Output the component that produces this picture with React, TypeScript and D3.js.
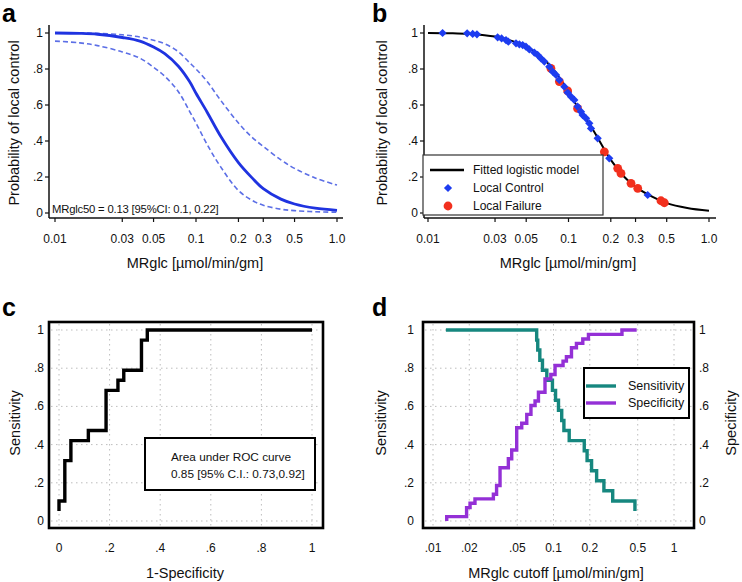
import React from 'react';
import * as d3 from 'd3';

// ---- panel a: fitted logistic curve with 95% CI
const gridX = [0.01, 0.015, 0.02, 0.03, 0.04, 0.05, 0.06, 0.075, 0.09, 0.1, 0.12, 0.15, 0.2, 0.25, 0.3, 0.4, 0.5, 0.7, 1.0];
const aFit = [1.0, 0.998, 0.993, 0.975, 0.955, 0.922, 0.885, 0.815, 0.73, 0.665, 0.56, 0.425, 0.28, 0.195, 0.135, 0.077, 0.05, 0.027, 0.015];
const aUpper = [1.0, 1.0, 0.998, 0.99, 0.978, 0.96, 0.94, 0.896, 0.835, 0.8, 0.73, 0.625, 0.5, 0.42, 0.37, 0.295, 0.248, 0.195, 0.155];
const aLower = [0.955, 0.945, 0.93, 0.895, 0.86, 0.81, 0.76, 0.674, 0.565, 0.5, 0.38, 0.255, 0.125, 0.07, 0.043, 0.021, 0.013, 0.007, 0.004];

// ---- panel b: fitted model + observations
const bFit = [1.0, 0.998, 0.995, 0.98, 0.955, 0.925, 0.885, 0.815, 0.73, 0.665, 0.575, 0.46, 0.295, 0.2, 0.145, 0.088, 0.055, 0.028, 0.012];
const controlX = [0.0127, 0.019, 0.0208, 0.0223, 0.0313, 0.0334, 0.0359, 0.0373, 0.0423, 0.0447, 0.0472, 0.0498, 0.0526, 0.0571, 0.0603, 0.0637, 0.0673, 0.073, 0.0771, 0.0815, 0.0861, 0.0934, 0.0986, 0.1042, 0.11, 0.116, 0.1227, 0.126, 0.1333, 0.1406, 0.1446, 0.1613, 0.195, 0.366];
const controlP = [1.0, 0.998, 0.995, 0.993, 0.976, 0.97, 0.961, 0.952, 0.943, 0.937, 0.933, 0.924, 0.909, 0.891, 0.878, 0.859, 0.841, 0.813, 0.785, 0.767, 0.739, 0.702, 0.669, 0.646, 0.628, 0.591, 0.563, 0.544, 0.526, 0.498, 0.47, 0.415, 0.304, 0.1];
const failureX = [0.075, 0.0861, 0.0986, 0.116, 0.18, 0.224, 0.2364, 0.2786, 0.311, 0.455, 0.481];
const failureP = [0.803, 0.73, 0.678, 0.581, 0.34, 0.248, 0.22, 0.165, 0.137, 0.068, 0.057];

// ---- panel c: ROC curve (step vertices)
const rocFpr = [0, 0, 0.023, 0.047, 0.116, 0.186, 0.233, 0.256, 0.326, 0.349, 1];
const rocTpr = [0.053, 0.105, 0.316, 0.421, 0.474, 0.684, 0.737, 0.789, 0.947, 1, 1];

// ---- panel d: sensitivity / specificity vs cutoff
const sensCut = [0.0128, 0.0725, 0.074, 0.077, 0.081, 0.088, 0.098, 0.104, 0.11, 0.117, 0.122, 0.135, 0.18, 0.19, 0.207, 0.228, 0.262, 0.31, 0.474, 0.474];
const sensVal = [1.0, 0.947, 0.895, 0.842, 0.789, 0.737, 0.684, 0.632, 0.579, 0.526, 0.474, 0.421, 0.368, 0.316, 0.263, 0.211, 0.158, 0.105, 0.105, 0.053];
const specCut = [0.013, 0.013, 0.019, 0.0203, 0.0223, 0.0317, 0.0337, 0.036, 0.0422, 0.045, 0.0495, 0.0545, 0.06, 0.065, 0.0703, 0.075, 0.085, 0.095, 0.103, 0.12, 0.128, 0.141, 0.155, 0.175, 0.195, 0.37, 0.49];
const specVal = [0.0, 0.023, 0.07, 0.093, 0.116, 0.14, 0.186, 0.279, 0.326, 0.372, 0.488, 0.512, 0.558, 0.605, 0.628, 0.674, 0.744, 0.767, 0.814, 0.837, 0.86, 0.907, 0.93, 0.953, 0.977, 1.0, 1.0];

const probTicks = [0, 0.2, 0.4, 0.6, 0.8, 1];
const probLabels = ['0', '.2', '.4', '.6', '.8', '1'];
const mrTicks = [0.01, 0.03, 0.05, 0.1, 0.2, 0.3, 0.5, 1.0];
const mrLabels = ['0.01', '0.03', '0.05', '0.1', '0.2', '0.3', '0.5', '1.0'];
const rocTicks = [0, 0.2, 0.4, 0.6, 0.8, 1];
const rocLabels = ['0', '.2', '.4', '.6', '.8', '1'];
const cutTicks = [0.01, 0.02, 0.05, 0.1, 0.2, 0.5, 1];
const cutLabels = ['.01', '.02', '.05', '0.1', '0.2', '0.5', '1'];

const FONT = 'Liberation Sans, Arial, sans-serif';
const BLUE = '#1f33e0';
const BLUE_DASH = '#5c6fe6';
const TEAL = '#16877f';
const PURPLE = '#9430d6';

const tickFont = { fontFamily: FONT, fontSize: 12, fill: '#111' } as const;
const titleFont = { fontFamily: FONT, fontSize: 14.5, fill: '#111' } as const;
const letterFont = { fontFamily: FONT, fontSize: 25, fontWeight: 700, fill: '#000' } as const;

export default function App() {
  // scales
  const axA = d3.scaleLog().domain([0.01, 1]).range([55, 337]);
  const ayA = d3.scaleLinear().domain([0, 1]).range([213, 33]);
  const axB = d3.scaleLog().domain([0.01, 1]).range([428, 709]);
  const ayB = d3.scaleLinear().domain([0, 1]).range([213, 33]);
  const axC = d3.scaleLinear().domain([0, 1]).range([59, 312]);
  const ayC = d3.scaleLinear().domain([0, 1]).range([521, 330]);
  const axD = d3.scaleLog().domain([0.01, 1]).range([433, 674]);
  const ayD = d3.scaleLinear().domain([0, 1]).range([521, 330]);

  const curve = (sx: any, sy: any, ys: number[]) =>
    d3.line<number>().x((_, i) => sx(gridX[i])).y(d => sy(d)).curve(d3.curveCatmullRom.alpha(0.5))(ys) || '';

  const rocPath = d3.line<number>().x(d => axC(d)).y((_, i) => ayC(rocTpr[i])).curve(d3.curveStepAfter)(rocFpr) || '';
  const sensPath = d3.line<number>().x(d => axD(d)).y((_, i) => ayD(sensVal[i])).curve(d3.curveStepAfter)(sensCut) || '';
  const specPath = d3.line<number>().x(d => axD(d)).y((_, i) => ayD(specVal[i])).curve(d3.curveStepAfter)(specCut) || '';

  const diamond = d3.symbol(d3.symbolSquare, 34)() || '';

  const leftAxis = (sy: any, axisX: number, top: number, bottom: number) => (
    <g>
      <line x1={axisX} x2={axisX} y1={top} y2={bottom} stroke="#111" strokeWidth={1.5} />
      {probTicks.map((t, i) => (
        <g key={i}>
          <line x1={axisX - 4} x2={axisX} y1={sy(t)} y2={sy(t)} stroke="#111" strokeWidth={1.2} />
          <text x={axisX - 6} y={sy(t) + 4} textAnchor="end" {...tickFont}>{probLabels[i]}</text>
        </g>
      ))}
    </g>
  );

  const bottomAxis = (sx: any, axisY: number, left: number, right: number) => (
    <g>
      <line x1={left} x2={right} y1={axisY} y2={axisY} stroke="#111" strokeWidth={1.5} />
      {mrTicks.map((t, i) => (
        <g key={i}>
          <line x1={sx(t)} x2={sx(t)} y1={axisY} y2={axisY + 4} stroke="#111" strokeWidth={1.2} />
          <text x={sx(t)} y={axisY + 25} textAnchor="middle" {...tickFont}>{mrLabels[i]}</text>
        </g>
      ))}
    </g>
  );

  const grid = (sx: any, sy: any, xs: number[], x0: number, x1: number) => (
    <g stroke="#bdbdbd" strokeWidth={1} strokeDasharray="1.5,3.5">
      {xs.map((t, i) => <line key={'x' + i} x1={sx(t)} x2={sx(t)} y1={324} y2={526} />)}
      {probTicks.map((t, i) => <line key={'y' + i} x1={x0} x2={x1} y1={sy(t)} y2={sy(t)} />)}
    </g>
  );

  return (
    <svg width={742} height={582} style={{ position: 'absolute', left: 0, top: 0, background: '#fff' }}>
      <rect width={742} height={582} fill="#fff" />

      {/* ---------- panel a ---------- */}
      <text x={2} y={22} {...letterFont}>a</text>
      {leftAxis(ayA, 49, 25, 218)}
      {bottomAxis(axA, 218, 49, 343)}
      <path d={curve(axA, ayA, aUpper)} fill="none" stroke={BLUE_DASH} strokeWidth={1.6} strokeDasharray="5,3" />
      <path d={curve(axA, ayA, aLower)} fill="none" stroke={BLUE_DASH} strokeWidth={1.6} strokeDasharray="5,3" />
      <path d={curve(axA, ayA, aFit)} fill="none" stroke={BLUE} strokeWidth={2.8} />
      <text x={52} y={213} fontFamily={FONT} fontSize={11.3} fill="#111" letterSpacing={-0.2}>MRglc50 = 0.13 [95%CI: 0.1, 0.22]</text>
      <text transform="translate(19,123) rotate(-90)" textAnchor="middle" {...titleFont}>Probability of local control</text>
      <text x={195} y={268} textAnchor="middle" {...titleFont}>MRglc [µmol/min/gm]</text>

      {/* ---------- panel b ---------- */}
      <text x={372} y={22} {...letterFont}>b</text>
      {leftAxis(ayB, 424, 25, 218)}
      {bottomAxis(axB, 218, 424, 716)}
      <path d={curve(axB, ayB, bFit)} fill="none" stroke="#000" strokeWidth={2} />
      {failureX.map((x, i) => (
        <circle key={'f' + i} cx={axB(x)} cy={ayB(failureP[i])} r={4.4} fill="#f2301e" />
      ))}
      {controlX.map((x, i) => (
        <path key={'c' + i} d={diamond} transform={`translate(${axB(x)},${ayB(controlP[i])}) rotate(45)`} fill="#1d3cf0" />
      ))}
      <rect x={423} y={155} width={180} height={60} fill="#fff" stroke="#333" strokeWidth={1.2} />
      <line x1={430} x2={464} y1={170} y2={170} stroke="#000" strokeWidth={2.5} />
      <path d={diamond} transform="translate(448,188) rotate(45)" fill="#1d3cf0" />
      <circle cx={448} cy={206} r={4.4} fill="#f2301e" />
      <text x={473} y={174} fontFamily={FONT} fontSize={12} fill="#111">Fitted logistic model</text>
      <text x={473} y={192} fontFamily={FONT} fontSize={12} fill="#111">Local Control</text>
      <text x={473} y={210} fontFamily={FONT} fontSize={12} fill="#111">Local Failure</text>
      <text transform="translate(387,123) rotate(-90)" textAnchor="middle" {...titleFont}>Probability of local control</text>
      <text x={568} y={268} textAnchor="middle" {...titleFont}>MRglc [µmol/min/gm]</text>

      {/* ---------- panel c ---------- */}
      <text x={2} y={316} {...letterFont}>c</text>
      {grid(axC, ayC, rocTicks, 51, 321)}
      <rect x={49} y={322} width={274} height={206} fill="none" stroke="#000" strokeWidth={2.6} />
      {probTicks.map((t, i) => (
        <text key={i} x={44} y={ayC(t) + 4} textAnchor="end" {...tickFont}>{probLabels[i]}</text>
      ))}
      {rocTicks.map((t, i) => (
        <text key={i} x={axC(t)} y={552} textAnchor="middle" {...tickFont}>{rocLabels[i]}</text>
      ))}
      <path d={rocPath} fill="none" stroke="#000" strokeWidth={3.4} />
      <rect x={145} y={438} width={170} height={52} fill="#fff" stroke="#000" strokeWidth={2} />
      <text x={171} y={461} fontFamily={FONT} fontSize={11.8} fill="#111">Area under ROC curve</text>
      <text x={171} y={478} fontFamily={FONT} fontSize={11.8} fill="#111">0.85 [95% C.I.: 0.73,0.92]</text>
      <text transform="translate(20,423) rotate(-90)" textAnchor="middle" {...titleFont}>Sensitivity</text>
      <text x={185} y={578} textAnchor="middle" {...titleFont}>1-Specificity</text>

      {/* ---------- panel d ---------- */}
      <text x={372} y={316} {...letterFont}>d</text>
      {grid(axD, ayD, cutTicks, 425, 692)}
      <rect x={423} y={322} width={271} height={206} fill="none" stroke="#000" strokeWidth={2.6} />
      {probTicks.map((t, i) => (
        <g key={i}>
          <text x={414} y={ayD(t) + 4} textAnchor="end" {...tickFont}>{probLabels[i]}</text>
          <text x={699} y={ayD(t) + 4} textAnchor="start" {...tickFont}>{probLabels[i]}</text>
        </g>
      ))}
      {cutTicks.map((t, i) => (
        <text key={i} x={axD(t)} y={552} textAnchor="middle" {...tickFont}>{cutLabels[i]}</text>
      ))}
      <path d={sensPath} fill="none" stroke={TEAL} strokeWidth={3.4} />
      <path d={specPath} fill="none" stroke={PURPLE} strokeWidth={3.4} />
      <rect x={584} y={368} width={105} height={50} fill="#fff" stroke="#000" strokeWidth={2} />
      <line x1={586} x2={616} y1={386} y2={386} stroke={TEAL} strokeWidth={3.4} />
      <line x1={586} x2={616} y1={403} y2={403} stroke={PURPLE} strokeWidth={3.4} />
      <text x={628} y={390} fontFamily={FONT} fontSize={12.5} fill="#111">Sensitivity</text>
      <text x={628} y={407} fontFamily={FONT} fontSize={12.5} fill="#111">Specificity</text>
      <text transform="translate(386,423) rotate(-90)" textAnchor="middle" {...titleFont}>Sensitivity</text>
      <text transform="translate(736,423) rotate(-90)" textAnchor="middle" {...titleFont}>Specificity</text>
      <text x={556} y={578} textAnchor="middle" {...titleFont}>MRglc cutoff [µmol/min/gm]</text>
    </svg>
  );
}
